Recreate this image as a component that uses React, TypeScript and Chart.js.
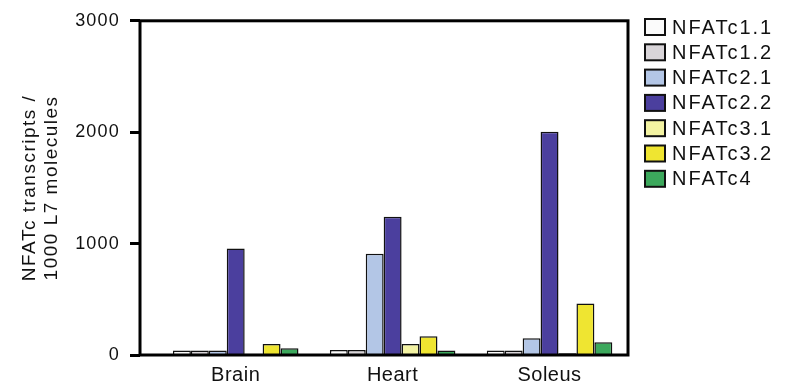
import React, { useEffect, useRef } from "react";
import { Chart, registerables } from "chart.js";

Chart.register(...registerables);

const categories = ["Brain", "Heart", "Soleus"];
const seriesNames = ["NFATc1.1", "NFATc1.2", "NFATc2.1", "NFATc2.2", "NFATc3.1", "NFATc3.2", "NFATc4"];
const brainValues = [40, 40, 40, 955, 12, 98, 60];
const heartValues = [45, 45, 908, 1240, 98, 168, 40];
const soleusValues = [40, 40, 150, 2005, 15, 462, 115];
const seriesColors = ["#fbfbfb", "#d9d5d9", "#b3c6e6", "#4b3f9e", "#f3f3a2", "#efe531", "#3ca85c"];
const yTicks = [0, 1000, 2000, 3000];

const FONT = "'Liberation Sans', Arial, sans-serif";

function wrapSpacing(s: any, labels: string, title: string) {
  if (s.__wrapped) return;
  s.__wrapped = true;
  const dl = s.drawLabels.bind(s);
  s.drawLabels = (a: any) => {
    s.ctx.save();
    s.ctx.letterSpacing = labels;
    dl(a);
    s.ctx.restore();
  };
  const dt = s.drawTitle.bind(s);
  s.drawTitle = (a: any) => {
    s.ctx.save();
    s.ctx.letterSpacing = title;
    dt(a);
    s.ctx.restore();
  };
}

const framePlugin = {
  id: "frame",
  afterDatasetsDraw(chart: any) {
    const { ctx, chartArea: a } = chart;
    ctx.save();
    ctx.strokeStyle = "#000";
    ctx.lineWidth = 3;
    ctx.strokeRect(a.left, a.top, a.right - a.left, a.bottom - a.top);
    ctx.restore();
  },
};

const legendPlugin = {
  id: "customLegend",
  afterDraw(chart: any) {
    const { ctx } = chart;
    const ds = chart.data.datasets;
    ctx.save();
    ctx.letterSpacing = "2px";
    ctx.font = `20px ${FONT}`;
    ctx.textBaseline = "middle";
    const x0 = 645;
    const y0 = 27;
    const step = 25.3;
    ds.forEach((d: any, i: number) => {
      const cy = y0 + i * step;
      ctx.fillStyle = d.backgroundColor;
      ctx.fillRect(x0, cy - 8, 20, 16);
      ctx.strokeStyle = "#111";
      ctx.lineWidth = 2;
      ctx.strokeRect(x0, cy - 8, 20, 16);
      ctx.fillStyle = "#111";
      ctx.fillText(d.label, 672, cy + 1);
    });
    ctx.restore();
  },
};

export default function App() {
  const ref = useRef<HTMLCanvasElement>(null);
  useEffect(() => {
    if (!ref.current) return;
    const groups = [brainValues, heartValues, soleusValues];
    const chart = new Chart(ref.current, {
      type: "bar",
      data: {
        datasets: seriesNames.map((name, si) => ({
          label: name,
          data: groups.map((g, ci) => ({ x: ci, y: g[si] })),
          backgroundColor: seriesColors[si],
          borderColor: "#111",
          borderWidth: 1.5,
          categoryPercentage: 0.8,
          barPercentage: 1,
        })),
      },
      options: {
        animation: false,
        responsive: true,
        maintainAspectRatio: false,
        layout: { padding: { top: 18, right: 161, bottom: 0, left: 0 } },
        plugins: { legend: { display: false }, tooltip: { enabled: false } },
        scales: {
          x: {
            type: "linear",
            offset: false,
            min: -0.61,
            max: 2.5,
            afterBuildTicks: (s: any) => {
              s.ticks = categories.map((_, i) => ({ value: i }));
            },
            afterFit: (s: any) => {
              s.height = 33;
              wrapSpacing(s, "0.5px", "0px");
            },
            grid: { display: false, drawTicks: false, offset: false },
            border: { display: false },
            ticks: {
              autoSkip: false,
              maxRotation: 0,
              padding: 8,
              color: "#111",
              font: { size: 20, family: FONT },
              callback: (v: any) => categories[v] ?? "",
            },
          },
          y: {
            min: 0,
            max: 3000,
            afterBuildTicks: (s: any) => {
              s.ticks = yTicks.map((v) => ({ value: v }));
            },
            afterFit: (s: any) => {
              s.width = 140;
              wrapSpacing(s, "1.2px", "1.5px");
            },
            grid: {
              drawOnChartArea: false,
              drawTicks: true,
              tickLength: 10,
              tickWidth: 3,
              tickColor: "#000",
            },
            border: { display: false },
            ticks: {
              padding: 10,
              color: "#111",
              font: { size: 18, family: FONT },
              callback: (v: any) => String(v),
            },
            title: {
              display: true,
              text: ["NFATc transcripts /", "1000 L7 molecules"],
              color: "#111",
              font: { size: 19, family: FONT, lineHeight: 1.15 },
              padding: { top: 19, bottom: 0 },
            },
          },
        },
      },
      plugins: [framePlugin, legendPlugin],
    });
    return () => chart.destroy();
  }, []);
  return (
    <div style={{ position: "absolute", left: 0, top: 0, width: 789, height: 388, background: "#fff" }}>
      <canvas ref={ref} />
    </div>
  );
}
